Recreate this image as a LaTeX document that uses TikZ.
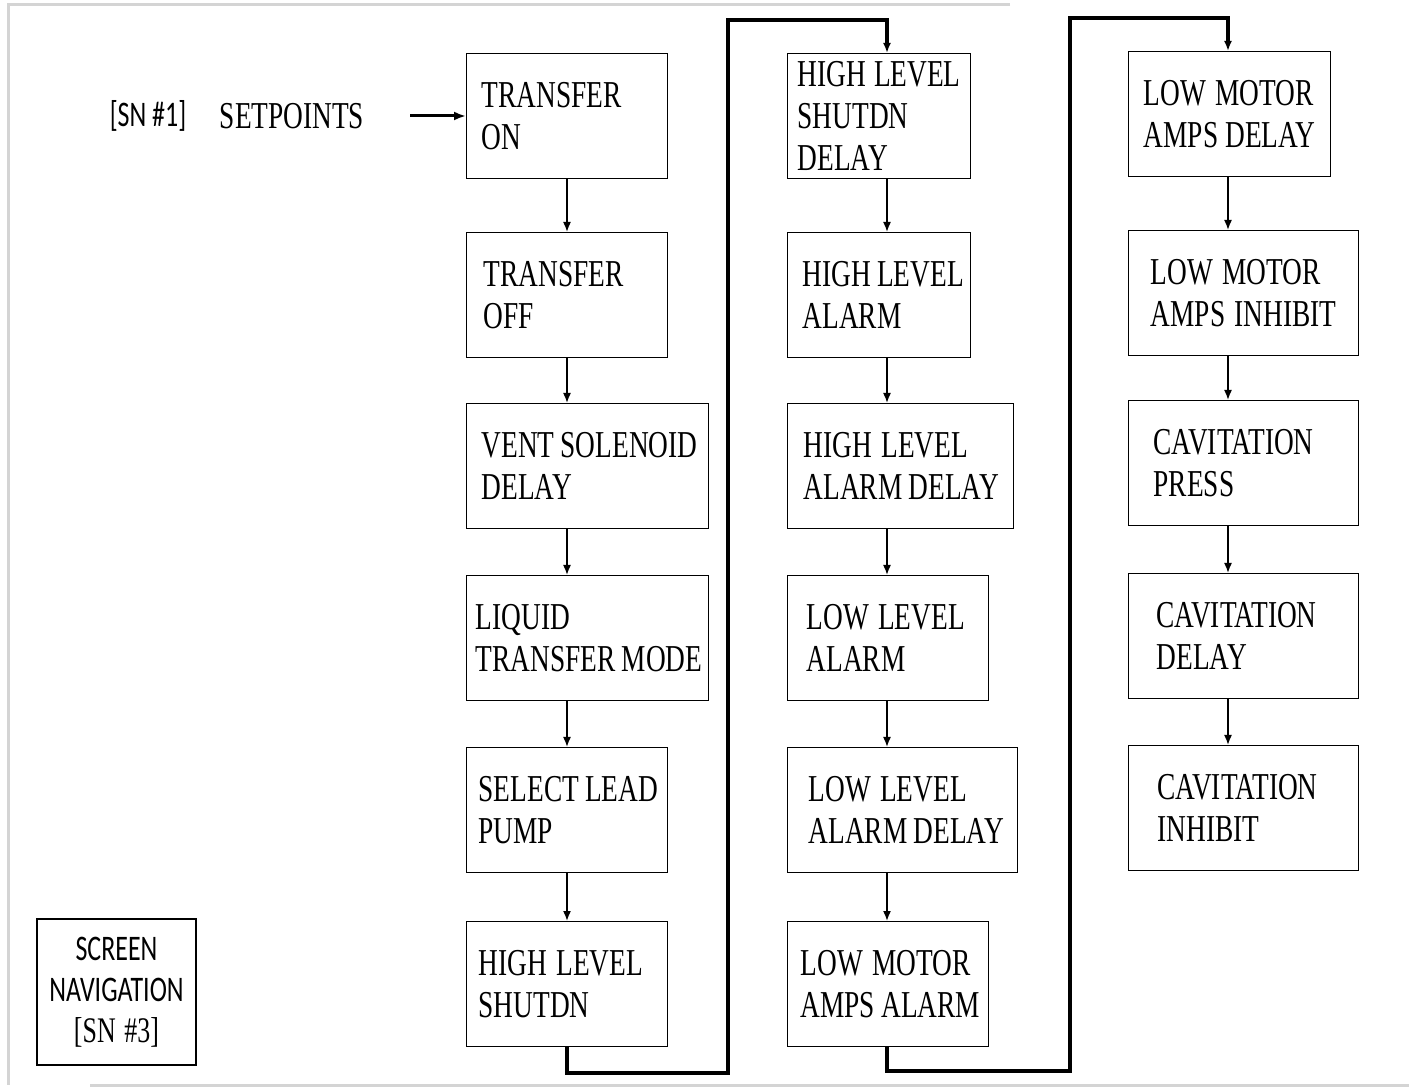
\documentclass[tikz,border=0pt]{standalone}
\usepackage{fontspec}
\setmainfont{Liberation Serif}[FakeStretch=0.72,WordSpace=1.35]
\newfontfamily\navsans{Carlito}[FakeStretch=0.72]
\usepackage{xcolor}
\definecolor{framegray}{RGB}{212,212,212}
\usetikzlibrary{arrows.meta}
\tikzset{
  navstep/.style 2 args={draw, line width=0.7pt, anchor=north west, align=flush left,
    text width=#1pt, inner xsep=#2pt, inner ysep=0pt, minimum height=62.5pt,
    font=\fontsize{19}{21}\selectfont,
    execute at begin node={\hyphenpenalty=10000\exhyphenpenalty=10000}},
  stepflow/.style={-{Latex[length=5pt,width=4pt]}, line width=0.8pt},
  jumpflow/.style={-{Latex[length=5pt,width=4pt]}, line width=2pt},
}

\begin{document}
\begin{tikzpicture}[x=0.5pt,y=-0.5pt]
\useasboundingbox (0,0) rectangle (1409,1090);
% ---- frame of the screenshot ----
\draw[framegray,line width=1.5pt] (1010,5) -- (8,5) -- (8,1085);
\draw[framegray,line width=1.5pt] (90,1085) -- (1409,1085);
% ---- entry ----
\node[font=\navsans\fontsize{18}{21}\selectfont] (sn1) at (148,116) {[SN \#1]};
\node[font=\fontsize{19}{21}\selectfont] (setp) at (292,116) {SETPOINTS};
\coordinate (entry) at (410,116);
% ---- column 1 ----
\node[navstep={85.5}{7.5}] (t_on)   at (466,53)  {TRANSFER\\ON};
\node[navstep={83.5}{8.5}] (t_off)  at (466,232) {TRANSFER\\OFF};
\node[navstep={106}{7.5}]  (vent)   at (466,403) {VENT~SOLENOID\\DELAY};
\node[navstep={112}{4.5}]  (liquid) at (466,575) {LIQUID\\TRANSFER~MODE};
\node[navstep={88.5}{6}]   (select) at (466,747) {SELECT~LEAD\\PUMP};
\node[navstep={88.5}{6}]   (hlshut) at (466,921) {HIGH~LEVEL\\SHUTDN};
% ---- column 2 ----
\node[navstep={81.5}{5}]   (hlsd) at (787,53)  {HIGH~LEVEL\\SHUTDN\\DELAY};
\node[navstep={76.5}{7.5}] (hla)  at (787,232) {HIGH~LEVEL\\ALARM};
\node[navstep={97}{8}]     (hlad) at (787,403) {HIGH~LEVEL\\ALARM~DELAY};
\node[navstep={81.5}{9.5}] (lla)  at (787,575) {LOW~LEVEL\\ALARM};
\node[navstep={94}{10.5}]  (llad) at (787,747) {LOW~LEVEL\\ALARM~DELAY};
\node[navstep={87.5}{6.5}] (lmaa) at (787,921) {LOW~MOTOR\\AMPS~ALARM};
% ---- column 3 ----
\node[navstep={86}{7.5}]   (lmad) at (1128,51)  {LOW~MOTOR\\AMPS~DELAY};
\node[navstep={93}{11}]    (lmai) at (1128,230) {LOW~MOTOR\\AMPS~INHIBIT};
\node[navstep={90}{12.5}]  (cavp) at (1128,400) {CAVITATION\\PRESS};
\node[navstep={87}{14}]    (cavd) at (1128,573) {CAVITATION\\DELAY};
\node[navstep={86}{14.5}]  (cavi) at (1128,745) {CAVITATION\\INHIBIT};
% ---- legend box ----
\node[draw, line width=0.7pt, minimum width=79.5pt, minimum height=73pt, align=center,
  font=\fontsize{18}{20.5}\selectfont] (snav) at (116.5,992)
  {\navsans SCREEN\\\navsans NAVIGATION\\\rmfamily[SN \#3]};
% ---- flow ----
\coordinate (axisA) at (567,0);
\coordinate (axisB) at (887,0);
\coordinate (axisC) at (1228,0);
\draw[line width=1.5pt,-{Latex[length=6pt,width=4.5pt]}] (entry) -- (t_on.west |- entry);
\foreach \a/\b/\c in {t_on/t_off/axisA, t_off/vent/axisA, vent/liquid/axisA,
    liquid/select/axisA, select/hlshut/axisA,
    hlsd/hla/axisB, hla/hlad/axisB, hlad/lla/axisB, lla/llad/axisB, llad/lmaa/axisB,
    lmad/lmai/axisC, lmai/cavp/axisC, cavp/cavd/axisC, cavd/cavi/axisC}
  \draw[stepflow] (\a.south -| \c) -- (\b.north -| \c);
\coordinate (loopA_bot) at (728,1073);
\coordinate (loopA_top) at (728,20);
\coordinate (loopB_bot) at (1070,1071);
\coordinate (loopB_top) at (1070,18);
\draw[jumpflow] (hlshut.south -| axisA) |- (loopA_bot) -- (loopA_top) -| (hlsd.north -| axisB);
\draw[jumpflow] (lmaa.south -| axisB) |- (loopB_bot) -- (loopB_top) -| (lmad.north -| axisC);
\end{tikzpicture}
\end{document}
